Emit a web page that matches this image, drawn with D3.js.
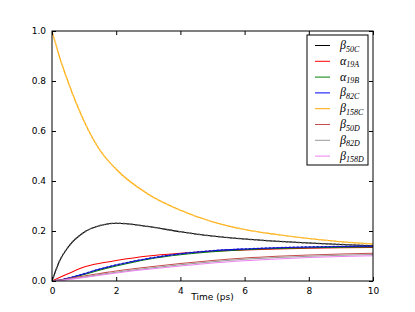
<!DOCTYPE html>
<html>
<head>
<meta charset="utf-8">
<script src="https://cdn.jsdelivr.net/npm/d3@7"></script>
<style>
  body { margin: 0; background: #fff; }
  .tick text { font-family: "DejaVu Sans", sans-serif; font-size: 9px; fill: #000; }
  .legend text { font-family: "Liberation Serif", serif; font-style: italic; }
</style>
</head>
<body>
<svg id="chart" width="415" height="312"></svg>
<script>
// values (time in ps)
let times      = [0, 0.25, 0.5, 1, 1.5, 2, 3, 4, 5, 6, 7, 8, 9, 10];
let beta50C    = [0, 0.084, 0.135, 0.195, 0.222, 0.231, 0.218, 0.197, 0.180, 0.168, 0.159, 0.152, 0.146, 0.141];
let alpha19A   = [0, 0.015, 0.029, 0.056, 0.071, 0.082, 0.100, 0.111, 0.119, 0.124, 0.128, 0.131, 0.133, 0.134];
let alpha19B   = [0, 0.003, 0.009, 0.026, 0.044, 0.060, 0.087, 0.105, 0.117, 0.125, 0.130, 0.133, 0.135, 0.136];
let beta82C    = [0, 0.004, 0.011, 0.029, 0.048, 0.064, 0.090, 0.109, 0.121, 0.128, 0.133, 0.136, 0.138, 0.139];
let beta158C   = [1.0, 0.890, 0.797, 0.639, 0.522, 0.447, 0.347, 0.283, 0.237, 0.206, 0.186, 0.170, 0.157, 0.148];
let beta50D    = [0, 0.004, 0.009, 0.020, 0.030, 0.040, 0.056, 0.070, 0.082, 0.092, 0.099, 0.104, 0.108, 0.111];
let beta82D    = [0, 0.003, 0.007, 0.016, 0.026, 0.035, 0.051, 0.065, 0.077, 0.087, 0.094, 0.099, 0.103, 0.106];
let beta158D   = [0, 0.002, 0.006, 0.014, 0.023, 0.032, 0.047, 0.060, 0.072, 0.081, 0.088, 0.094, 0.098, 0.101];

let seriesNames = [["β", "50C"], ["α", "19A"], ["α", "19B"], ["β", "82C"],
                   ["β", "158C"], ["β", "50D"], ["β", "82D"], ["β", "158D"]];
let seriesValues = [beta50C, alpha19A, alpha19B, beta82C, beta158C, beta50D, beta82D, beta158D];
let seriesColors = ["#000000", "#ff0000", "#008000", "#0000ff", "#ffa500", "#c44e4e", "#999999", "#ee82ee"];
let dashColors   = ["#555555", null, null, "#2020a0", "#ffc850", null, null, null];

let xTicks = [0, 2, 4, 6, 8, 10];
let yTicks = [0, 0.2, 0.4, 0.6, 0.8, 1.0];

let margin = {top: 31, right: 42, bottom: 31, left: 52};
let width = 415 - margin.left - margin.right;
let height = 312 - margin.top - margin.bottom;

let svg = d3.select("#chart")
  .append("g")
  .attr("transform", "translate(" + margin.left + "," + margin.top + ")");

let x = d3.scaleLinear().domain([0, 10]).range([0, width]);
let y = d3.scaleLinear().domain([0, 1]).range([height, 0]);

// curves
let line = d3.line()
  .x(function(d, i) { return x(times[i]); })
  .y(function(d) { return y(d); })
  .curve(d3.curveMonotoneX);

svg.append("clipPath").attr("id", "clip")
  .append("rect").attr("width", width).attr("height", height);

let plot = svg.append("g").attr("clip-path", "url(#clip)");

seriesValues.forEach(function(vals, i) {
  plot.append("path")
    .attr("d", line(vals))
    .attr("fill", "none")
    .attr("stroke", seriesColors[i])
    .attr("stroke-width", 1.1);
  if (dashColors[i]) {
    plot.append("path")
      .attr("d", line(vals))
      .attr("fill", "none")
      .attr("stroke", dashColors[i])
      .attr("stroke-width", 1.5)
      .attr("stroke-dasharray", "2,2");
  }
});

// axes, ticks pointing inward like old matplotlib
let fmtY = d3.format(".1f");
svg.append("g")
  .attr("transform", "translate(0," + height + ")")
  .call(d3.axisBottom(x).tickValues(xTicks).tickSize(-4).tickPadding(7).tickFormat(d3.format("d")))
  .call(function(g) { g.select(".domain").remove(); });
svg.append("g")
  .call(d3.axisTop(x).tickValues(xTicks).tickSize(-4).tickFormat(""))
  .call(function(g) { g.select(".domain").remove(); });
svg.append("g")
  .call(d3.axisLeft(y).tickValues(yTicks).tickSize(-4).tickPadding(6).tickFormat(fmtY))
  .call(function(g) { g.select(".domain").remove(); });
svg.append("g")
  .attr("transform", "translate(" + width + ",0)")
  .call(d3.axisRight(y).tickValues(yTicks).tickSize(-4).tickFormat(""))
  .call(function(g) { g.select(".domain").remove(); });

svg.append("rect")
  .attr("width", width).attr("height", height)
  .attr("fill", "none").attr("stroke", "#000").attr("stroke-width", 1);

svg.append("text")
  .attr("x", width / 2)
  .attr("y", height + 19)
  .style("text-anchor", "middle")
  .style("font-family", "DejaVu Sans, sans-serif")
  .style("font-size", "9px")
  .text("Time (ps)");

// legend
let legend = svg.append("g")
  .attr("class", "legend")
  .attr("transform", "translate(" + (307 - margin.left) + "," + (35 - margin.top) + ")");

legend.append("rect")
  .attr("width", 61).attr("height", 130)
  .attr("fill", "#fff").attr("stroke", "#000").attr("stroke-width", 1);

seriesNames.forEach(function(n, i) {
  let ly = 10.5 + i * 15.8;
  legend.append("line")
    .attr("x1", 8).attr("x2", 23)
    .attr("y1", ly).attr("y2", ly)
    .attr("stroke", seriesColors[i])
    .attr("stroke-width", 1);
  let t = legend.append("text")
    .attr("x", 33)
    .attr("y", ly + 3.5)
    .style("font-size", "12px");
  t.append("tspan").text(n[0]);
  t.append("tspan").attr("dy", 2.5).style("font-size", "8px").text(n[1]);
});
</script>
</body>
</html>
